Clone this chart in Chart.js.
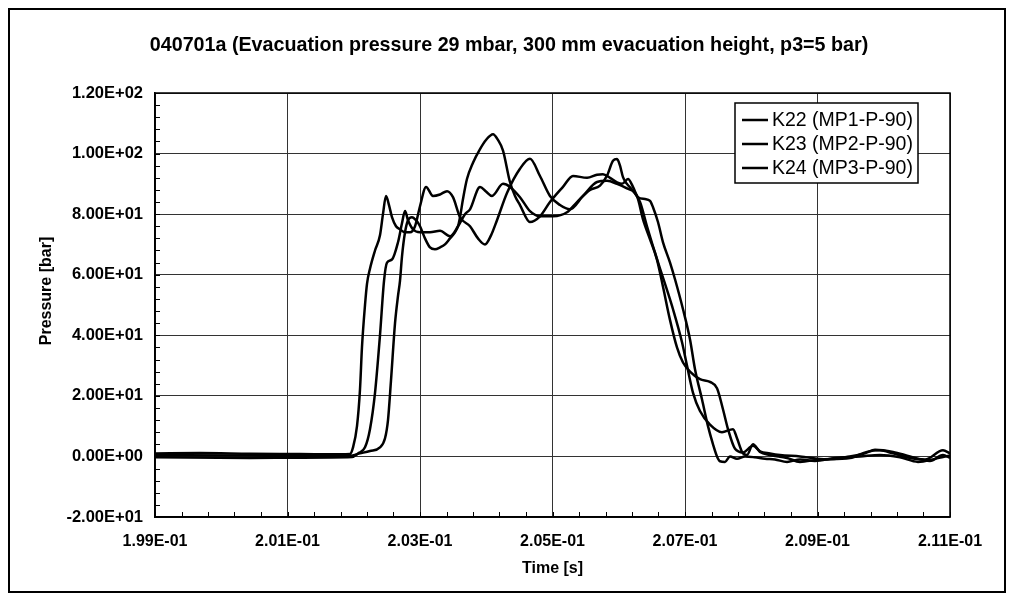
<!DOCTYPE html>
<html>
<head>
<meta charset="utf-8">
<script src="https://cdn.jsdelivr.net/npm/chart.js@4/dist/chart.umd.min.js"></script>
<style>
  body { margin: 0; background: #fff; }
  #wrap { width: 1012px; height: 599px; }
</style>
</head>
<body>
<div id="wrap"><canvas id="pressureChart" width="1012" height="599"></canvas></div>
<script>
// time in ms, pressure in bar
const chartTitle = "040701a (Evacuation pressure 29 mbar, 300 mm evacuation height, p3=5 bar)";
const seriesNames = ["K22 (MP1-P-90)", "K23 (MP2-P-90)", "K24 (MP3-P-90)"];

const k22Time = [199.000, 199.679, 200.434, 201.189, 201.792, 201.943, 201.989, 202.049, 202.094, 202.124,
  202.170, 202.200, 202.245, 202.321, 202.396, 202.441, 202.487, 202.532, 202.577, 202.638,
  202.698, 202.774, 202.849, 202.925, 203.000, 203.091, 203.196, 203.302, 203.408, 203.498,
  203.604, 203.755, 203.875, 203.981, 204.072, 204.162, 204.313, 204.509, 204.660, 204.811,
  204.962, 205.113, 205.264, 205.460, 205.672, 205.823, 205.974, 206.124, 206.275, 206.366,
  206.472, 206.577, 206.668, 206.774, 206.879, 206.970, 207.075, 207.226, 207.377, 207.483,
  207.574, 207.649, 207.755, 207.875, 208.026, 208.132, 208.283, 208.434, 208.736, 209.143,
  209.491, 209.717, 209.868, 210.140, 210.396, 210.698, 210.894, 211.000];
const k22Pressure = [1.0, 1.1, 0.9, 0.8, 0.7, 0.8, 3, 10, 22, 36,
  50, 57, 62, 68, 73, 80, 86, 83, 79, 76,
  75, 74, 74, 76, 82.6, 89, 86, 86.5, 87.6, 85.6,
  79, 76, 72, 70, 73, 78, 87, 95, 98.3, 92.6,
  86, 83, 81.6, 86, 90.6, 91, 90, 88.5, 86, 78.3,
  71.7, 65, 56, 45, 36, 31, 28, 25.5, 24.6, 22.5,
  15.5, 9, 2.5, 1.3, 3.5, 1.7, 1, 0.5, 0, -1,
  0, 1, 2.2, 1.5, 0, -1.5, 0.5, -0.5];

const k23Time = [199.000, 200.434, 201.189, 201.974, 202.064, 202.170, 202.245, 202.321, 202.396, 202.457,
  202.502, 202.577, 202.668, 202.728, 202.774, 202.819, 202.894, 203.000, 203.151, 203.302,
  203.453, 203.574, 203.679, 203.755, 203.906, 203.996, 204.087, 204.253, 204.358, 204.509,
  204.660, 204.811, 205.008, 205.219, 205.370, 205.566, 205.717, 205.823, 205.913, 205.974,
  206.019, 206.064, 206.124, 206.215, 206.321, 206.426, 206.517, 206.623, 206.728, 206.819,
  206.955, 207.030, 207.121, 207.226, 207.377, 207.558, 207.725, 207.785, 207.875, 207.936,
  208.026, 208.132, 208.283, 208.540, 208.736, 209.038, 209.491, 209.747, 209.943, 210.140,
  210.396, 210.623, 210.894, 211.000];
const k23Pressure = [-0.3, -0.5, -0.4, -0.2, 1, 3, 9, 21, 40, 58,
  64, 65, 70.7, 77, 81, 78, 75, 74, 74, 74.5,
  72.7, 76, 80, 81.6, 89, 87.5, 86, 90, 89, 85.6,
  81, 79.3, 79.3, 80.6, 84, 88, 89.4, 92.7, 97.6, 98.2,
  96, 92.2, 90, 87.7, 84, 76, 69.4, 62, 55, 48.6,
  37.7, 30, 21, 15, 10.5, 8, 9, 6, 1, 0.5,
  4, 1.5, 0.5, -0.5, -1.8, -1, -0.5, 1.5, 2, 1,
  -0.5, -1, 2, 1];

const k24Time = [199.000, 200.434, 201.189, 201.943, 202.094, 202.245, 202.396, 202.472, 202.517, 202.562,
  202.623, 202.668, 202.698, 202.728, 202.774, 202.819, 202.879, 202.940, 203.000, 203.075,
  203.151, 203.226, 203.302, 203.377, 203.453, 203.528, 203.574, 203.604, 203.649, 203.709,
  203.800, 203.906, 203.996, 204.102, 204.177, 204.253, 204.358, 204.434, 204.509, 204.660,
  204.811, 204.962, 205.158, 205.309, 205.521, 205.672, 205.762, 205.868, 205.974, 206.049,
  206.140, 206.215, 206.290, 206.396, 206.472, 206.517, 206.592, 206.668, 206.774, 206.849,
  206.970, 207.075, 207.151, 207.257, 207.347, 207.423, 207.483, 207.528, 207.604, 207.679,
  207.785, 207.906, 208.056, 208.207, 208.358, 208.540, 208.736, 208.962, 209.264, 209.641,
  209.943, 210.245, 210.517, 210.773, 211.000];
const k24Pressure = [0.4, 0.3, 0.2, 0.2, 1, 1.8, 3, 6, 12, 25,
  44, 53, 58, 66, 74, 78, 79, 78, 76, 72,
  69, 68.4, 69, 70, 72, 74, 76, 79, 85, 91.6,
  97, 101.5, 104.5, 106.4, 104.5, 101, 90.6, 86, 83, 77.4,
  79.3, 84, 89, 92.6, 92, 93, 93.2, 92, 90.5, 90,
  91.6, 89, 85.6, 85, 84.4, 82.3, 77.4, 70.7, 64, 58.5,
  48.6, 38.7, 28.8, 18.8, 10, 4, 0, -1.6, -1.8, 0,
  -0.8, 0, -0.3, -0.8, -1, -1.8, -1, -1.5, -0.5, 0,
  0.5, -0.3, -1.8, -0.8, 0.3];

const xTicks = [199, 201, 203, 205, 207, 209, 211];
const yTicks = [-20, 0, 20, 40, 60, 80, 100, 120];

const FONT = "'Liberation Sans', Arial, sans-serif";

// Excel style 1.20E+02
function sci(v) {
  const parts = v.toExponential(2).split("e");
  const n = parseInt(parts[1], 10);
  return parts[0] + "E" + (n < 0 ? "-" : "+") + String(Math.abs(n)).padStart(2, "0");
}

function toPoints(times, values) {
  return times.map((t, i) => ({ x: t, y: values[i] }));
}

const allSeries = [
  toPoints(k22Time, k22Pressure),
  toPoints(k23Time, k23Pressure),
  toPoints(k24Time, k24Pressure),
];

const frameAndLegend = {
  id: "frameAndLegend",
  beforeDraw(chart) {
    const ctx = chart.ctx;
    ctx.save();
    ctx.fillStyle = "#fff";
    ctx.fillRect(0, 0, chart.width, chart.height);
    ctx.restore();
  },
  afterDraw(chart) {
    const { ctx, chartArea: a, scales } = chart;
    ctx.save();
    ctx.strokeStyle = "#000";

    // plot border
    ctx.lineWidth = 1.5;
    ctx.strokeRect(a.left, a.top, a.right - a.left, a.bottom - a.top);

    // minor tick marks
    ctx.lineWidth = 1;
    ctx.beginPath();
    for (let v = -20; v <= 120; v += 4) {
      const py = Math.round(scales.y.getPixelForValue(v)) + 0.5;
      ctx.moveTo(a.left, py);
      ctx.lineTo(a.left + 5, py);
    }
    for (let i = 0; i <= 30; i++) {
      const px = Math.round(scales.x.getPixelForValue(199 + i * 0.4)) + 0.5;
      ctx.moveTo(px, a.bottom);
      ctx.lineTo(px, a.bottom - 5);
    }
    ctx.stroke();

    ctx.fillStyle = "#000";
    ctx.textAlign = "center";
    ctx.textBaseline = "middle";

    // chart title
    ctx.font = "bold 19.7px " + FONT;
    ctx.fillText(chartTitle, 509, 46);

    // y axis title
    ctx.save();
    ctx.translate(47, 291);
    ctx.rotate(-Math.PI / 2);
    ctx.font = "bold 16px " + FONT;
    ctx.fillText("Pressure [bar]", 0, 0);
    ctx.restore();

    // legend box
    const lx = 735, ly = 103, lw = 183, lh = 80;
    ctx.fillStyle = "#fff";
    ctx.fillRect(lx, ly, lw, lh);
    ctx.lineWidth = 1.5;
    ctx.strokeRect(lx, ly, lw, lh);
    ctx.font = "19.5px " + FONT;
    ctx.fillStyle = "#000";
    ctx.textAlign = "left";
    chart.data.datasets.forEach((ds, i) => {
      const yy = ly + 17 + i * 24;
      ctx.lineWidth = 2.5;
      ctx.beginPath();
      ctx.moveTo(lx + 7, yy);
      ctx.lineTo(lx + 33, yy);
      ctx.stroke();
      ctx.fillText(ds.label, lx + 37, yy + 1);
    });

    // outer frame
    ctx.lineWidth = 2;
    ctx.strokeRect(9, 9, 996, 583);
    ctx.restore();
  },
};

const ctx = document.getElementById("pressureChart").getContext("2d");

new Chart(ctx, {
  type: "line",
  data: {
    datasets: allSeries.map((pts, i) => ({
      label: seriesNames[i],
      data: pts,
      borderColor: "#000",
      borderWidth: 2.5,
      pointRadius: 0,
      fill: false,
      cubicInterpolationMode: "monotone",
    })),
  },
  options: {
    responsive: false,
    animation: false,
    layout: { padding: { left: 0, top: 93, right: 62, bottom: 0 } },
    plugins: {
      legend: { display: false },
      tooltip: { enabled: false },
      title: { display: false },
    },
    scales: {
      x: {
        type: "linear",
        min: 199,
        max: 211,
        afterBuildTicks: (s) => { s.ticks = xTicks.map((v) => ({ value: v })); },
        afterFit: (s) => { s.height = 82; },
        ticks: {
          callback: (v) => sci(v / 1000),
          color: "#000",
          padding: 15,
          maxRotation: 0,
          autoSkip: false,
          font: { family: FONT, size: 16, weight: "bold" },
        },
        grid: { color: "#333", lineWidth: 1, drawTicks: false },
        border: { color: "#000", width: 1.5 },
        title: {
          display: true,
          text: "Time [s]",
          color: "#000",
          font: { family: FONT, size: 16, weight: "bold", lineHeight: 1.2 },
          padding: { top: 0, bottom: 21 },
        },
      },
      y: {
        min: -20,
        max: 120,
        afterBuildTicks: (s) => { s.ticks = yTicks.map((v) => ({ value: v })); },
        afterFit: (s) => { s.width = 155; },
        ticks: {
          callback: (v) => sci(v),
          color: "#000",
          padding: 12,
          font: { family: FONT, size: 16.5, weight: "bold" },
        },
        grid: { color: "#333", lineWidth: 1, drawTicks: false },
        border: { color: "#000", width: 1.5 },
        title: { display: false },
      },
    },
  },
  plugins: [frameAndLegend],
});
</script>
</body>
</html>
